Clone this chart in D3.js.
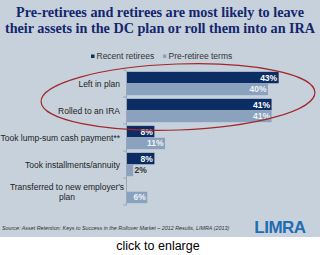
<!DOCTYPE html>
<html>
<head>
<meta charset="utf-8">
<script src="https://cdn.jsdelivr.net/npm/d3@7"></script>
<style>
  body { margin: 0; background: #fff; }
  svg { display: block; }
</style>
</head>
<body>
<svg id="chart" width="320" height="255"></svg>
<script>
// data
const categories = ["Left in plan", "Rolled to an IRA", "Took lump-sum cash payment**",
  "Took installments/annuity", "Transferred to new employer's plan"];
const seriesNames = ["Recent retirees", "Pre-retiree terms"];
const recentRetirees = [43, 41, 8, 8, null];
const preRetireeTerms = [40, 41, 11, 2, 6];
const titleLines = ["Pre-retirees and retirees are most likely to leave",
  "their assets in the DC plan or roll them into an IRA"];
const sourceText = "Source: Asset Retention: Keys to Success in the Rollover Market \u2013 2012 Results, LIMRA (2013)";

const colors = { recent: "#0c2d63", pre: "#8aa2bd", bg: "#c6d1dc", title: "#14266e" };

const svg = d3.select("#chart");

// panel background
svg.append("rect").attr("x", 0).attr("y", 0).attr("width", 320).attr("height", 237)
  .attr("fill", colors.bg);

// title
svg.append("g").selectAll("text").data(titleLines).join("text")
  .attr("x", 160).attr("y", (d, i) => 17 + i * 16)
  .attr("text-anchor", "middle")
  .attr("font-family", "'Liberation Serif', 'Times New Roman', serif")
  .attr("font-weight", "bold").attr("font-size", 14.2)
  .attr("fill", colors.title)
  .text(d => d);

// scales
const x = d3.scaleLinear().domain([0, 50]).range([126, 303.5]);
const y = d3.scaleBand().domain(categories).range([70, 205]).paddingInner(0.1).paddingOuter(0.05);
const sub = d3.scaleBand().domain(seriesNames).range([0, y.bandwidth()]).padding(0.04);

// legend
const legend = svg.append("g").attr("font-family", "Arial, 'Liberation Sans', sans-serif")
  .attr("font-size", 8.5).attr("fill", "#333");
const legendX = [91, 163];
seriesNames.forEach((name, i) => {
  legend.append("rect").attr("x", legendX[i]).attr("y", 54.5).attr("width", 3.5).attr("height", 3.5)
    .attr("fill", i === 0 ? colors.recent : colors.pre);
  legend.append("text").attr("x", legendX[i] + 5.5).attr("y", 59).text(name);
});

// bars
const rows = categories.map((c, i) => ({ cat: c, values: [
  { s: seriesNames[0], v: recentRetirees[i] }, { s: seriesNames[1], v: preRetireeTerms[i] }] }));

const groups = svg.append("g").selectAll("g").data(rows).join("g")
  .attr("transform", d => `translate(0,${y(d.cat)})`);

groups.selectAll("rect").data(d => d.values.filter(v => v.v != null)).join("rect")
  .attr("x", x(0)).attr("y", d => sub(d.s))
  .attr("width", d => x(d.v) - x(0)).attr("height", sub.bandwidth())
  .attr("fill", d => d.s === seriesNames[0] ? colors.recent : colors.pre);

groups.selectAll("text").data(d => d.values.filter(v => v.v != null)).join("text")
  .attr("font-family", "Arial, 'Liberation Sans', sans-serif").attr("font-size", 8.5)
  .attr("font-weight", "bold")
  .attr("y", d => sub(d.s) + sub.bandwidth() / 2 + 3)
  .attr("x", d => x(d.v) - x(0) > 16 ? x(d.v) - 1.5 : x(d.v) + 1.5)
  .attr("text-anchor", d => x(d.v) - x(0) > 16 ? "end" : "start")
  .attr("fill", d => x(d.v) - x(0) > 16 ? (d.s === seriesNames[0] ? "#fff" : "#eef2f6") : "#333")
  .text(d => d.v + "%");

// axis line with category ticks
const axis = d3.axisLeft(y).tickSize(0).tickFormat("");
const axisG = svg.append("g").attr("transform", `translate(${x(0)},0)`).call(axis);
axisG.select(".domain").attr("stroke", "#9aa7b5").attr("stroke-width", 1);
const bounds = categories.map(c => y(c) - y.step() * y.paddingInner() / 2).concat([y.range()[1]]);
axisG.selectAll(".sep").data(bounds).join("line").attr("class", "sep")
  .attr("x1", -3).attr("x2", 0).attr("y1", d => d).attr("y2", d => d)
  .attr("stroke", "#9aa7b5");

// category labels
const labels = svg.append("g").attr("font-family", "Arial, 'Liberation Sans', sans-serif")
  .attr("font-size", 8.5).attr("fill", "#222");
categories.forEach((c, i) => {
  const cy = y(c) + y.bandwidth() / 2 + 3;
  if (c.startsWith("Transferred")) {
    const t = labels.append("text").attr("x", 67).attr("text-anchor", "middle");
    t.append("tspan").attr("x", 67).attr("y", cy - 5).text("Transferred to new employer's");
    t.append("tspan").attr("x", 67).attr("y", cy + 5).text("plan");
  } else {
    labels.append("text").attr("x", 120).attr("y", cy).attr("text-anchor", "end").text(c);
  }
});

// highlight ellipse around the top two categories
const ecy = (y(categories[0]) + y(categories[1]) + y.bandwidth()) / 2;
svg.append("ellipse")
  .attr("cx", 178).attr("cy", ecy)
  .attr("rx", 137).attr("ry", 33)
  .attr("transform", `rotate(-2,178,${ecy})`)
  .attr("fill", "none").attr("stroke", "#a3262a").attr("stroke-width", 1.2);

// source
svg.append("text").attr("x", 2).attr("y", 230)
  .attr("font-family", "Arial, 'Liberation Sans', sans-serif").attr("font-size", 5.36)
  .attr("font-style", "italic").attr("fill", "#333").text(sourceText);

// logo
svg.append("text").attr("x", 280).attr("y", 233).attr("text-anchor", "middle")
  .attr("font-family", "Arial, 'Liberation Sans', sans-serif").attr("font-weight", "bold")
  .attr("font-size", 17).attr("fill", "#1f6db3").attr("letter-spacing", -0.5).text("LIMRA");

// caption below panel
svg.append("text").attr("x", 158).attr("y", 250).attr("text-anchor", "middle")
  .attr("font-family", "Arial, 'Liberation Sans', sans-serif").attr("font-size", 12.5)
  .attr("fill", "#000").text("click to enlarge");
</script>
</body>
</html>
